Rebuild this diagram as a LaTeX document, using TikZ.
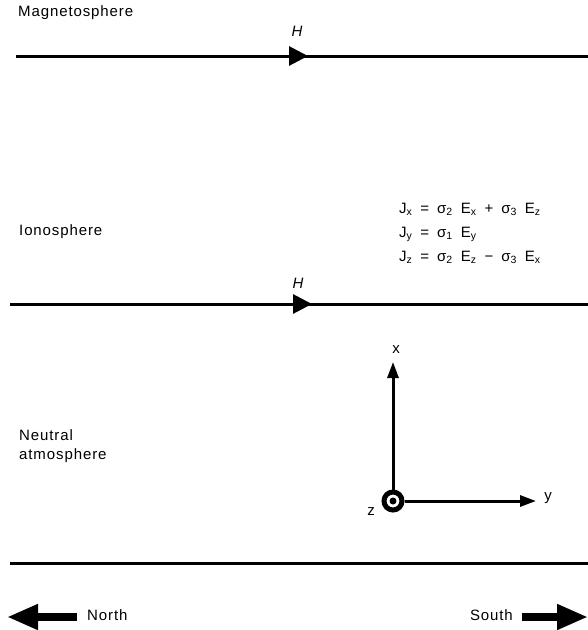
\documentclass[tikz,border=0pt]{standalone}
\usepackage{fontspec}
\setmainfont{Liberation Sans}[LetterSpace=6]
\usetikzlibrary{arrows.meta,decorations.markings}
\newcommand\myeqfont{\fontsize{15}{17}\selectfont\spaceskip=8pt\relax}
\begin{document}
\begin{tikzpicture}[x=1pt,y=-1pt,
  lbl/.style={inner sep=0pt, font=\fontsize{15}{17}\selectfont},
  eq/.style={inner sep=0pt, font=\myeqfont, anchor=base west},
  hlbl/.style={inner sep=0pt, font=\fontsize{15}{17}\selectfont\itshape},
  layerline/.style={line width=3pt, postaction={decorate},
     decoration={markings, mark=at position #1 with {\arrow{Triangle[length=19pt,width=19pt]}}}},
  plainline/.style={line width=3pt},
  axis/.style={line width=3pt, -{Triangle[length=16pt,width=11pt]}},
  bigarrow/.style={line width=7.5pt, -{Triangle[length=31pt,width=24pt]}}
]
\useasboundingbox (0,0) rectangle (588,630);

% labels
\node[lbl, anchor=base west] (mag) at (18,16) {Magnetosphere};
\node[lbl, anchor=base west] (ion) at (19,235) {Ionosphere};
\node[lbl, anchor=base west] (neu1) at (19,440) {Neutral};
\node[lbl, anchor=base west] (neu2) at (19,459) {atmosphere};

% field lines
\coordinate (m1) at (16,56);
\coordinate (m2) at (588,56);
\draw[layerline=292pt] (m1) -- (m2);
\node[hlbl] (h1) at (297,31) {H};

\coordinate (i1) at (10,304);
\coordinate (i2) at (588,304);
\draw[layerline=302pt] (i1) -- (i2);
\node[hlbl] (h2) at (298,283) {H};

\coordinate (b1) at (10,563);
\coordinate (b2) at (588,563);
\draw[plainline] (b1) -- (b2);

% equations
\node[eq] (e1) at (399,213) {J\textsubscript{x} = σ\textsubscript{2} E\textsubscript{x} + σ\textsubscript{3} E\textsubscript{z}};
\node[eq] (e2) at (399,237) {J\textsubscript{y} = σ\textsubscript{1} E\textsubscript{y}};
\node[eq] (e3) at (399,261) {J\textsubscript{z} = σ\textsubscript{2} E\textsubscript{z} − σ\textsubscript{3} E\textsubscript{x}};

% axes
\node[circle, draw, line width=5pt, minimum size=18pt, inner sep=0pt] (o) at (393,501) {};
\fill (o.center) circle (3.5pt);
\coordinate (xt) at (393,362);
\coordinate (yt) at (536,501);
\draw[axis] (o.north) -- (xt);
\draw[axis] (o.east) -- (yt);
\node[lbl] (xl) at (396,350) {x};
\node[lbl] (yl) at (548,498) {y};
\node[lbl] (zl) at (371,512) {z};

% North / South
\node[lbl, anchor=base west] (north) at (87,620) {North};
\coordinate (nt) at (7,617);
\draw[bigarrow] (north.west |- nt) ++(-10pt,0) -- (nt);
\node[lbl, anchor=base east] (south) at (513,620) {South};
\coordinate (st) at (588,617);
\draw[bigarrow] (south.east |- st) ++(9pt,0) -- (st);
\end{tikzpicture}
\end{document}
